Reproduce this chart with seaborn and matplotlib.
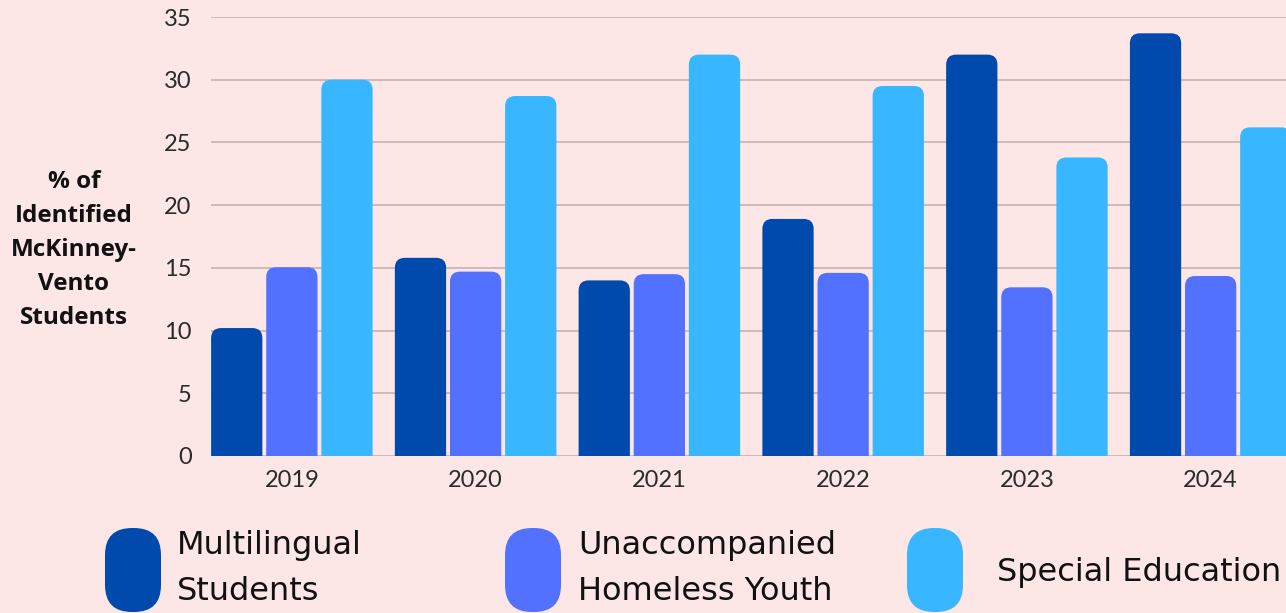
import numpy as np
import pandas as pd
import seaborn as sns
import matplotlib
matplotlib.use("Agg")
import matplotlib.pyplot as plt
from matplotlib.path import Path
from matplotlib.patches import PathPatch, FancyBboxPatch, Rectangle
from matplotlib.transforms import IdentityTransform

# ---- data ----
years = ["2019", "2020", "2021", "2022", "2023", "2024"]
series = ["Multilingual Students", "Unaccompanied Homeless Youth", "Special Education"]
multilingual = [10.2, 15.8, 14.0, 18.9, 32.0, 33.7]
unaccompanied = [15.05, 14.7, 14.5, 14.6, 13.45, 14.35]
special_ed = [30.0, 28.7, 32.0, 29.5, 23.8, 26.2]
legend_labels = ["Multilingual\nStudents", "Unaccompanied\nHomeless Youth", "Special Education"]
y_ticks = [0, 5, 10, 15, 20, 25, 30, 35]
y_label = "% of\nIdentified\nMcKinney-\nVento\nStudents"

colors = ["#004AAD", "#5271FF", "#38B6FF"]
bg = "#FDE6E6"

df = pd.DataFrame({
    "year": years * 3,
    "series": [series[0]] * 6 + [series[1]] * 6 + [series[2]] * 6,
    "value": multilingual + unaccompanied + special_ed,
})

sns.set_theme(style="white")
plt.rcParams["font.family"] = ["Lato", "DejaVu Sans"]

fig = plt.figure(figsize=(12.86, 6.13), dpi=100, facecolor=bg)
ax = fig.add_axes([211 / 1286, 1 - 456 / 613, 1 - 211 / 1286, (456 - 17) / 613])
ax.set_facecolor(bg)

sns.barplot(data=df, x="year", y="value", hue="series", order=years,
            hue_order=series, palette=colors, width=0.9, gap=0.07,
            legend=False, ax=ax, saturation=1)

ax.set_xlim(-0.44, 5.41)
ax.set_ylim(0, 35)
ax.set_yticks(y_ticks)
ax.grid(axis="y", color="#CBB7B7", linewidth=1.3)
ax.set_axisbelow(True)
for s in ax.spines.values():
    s.set_visible(False)
ax.tick_params(axis="y", length=0, pad=14, labelsize=17, labelcolor="#2a2a2a")
ax.tick_params(axis="x", length=0, pad=10, labelsize=17, labelcolor="#2a2a2a")
ax.set_xlabel("")
ax.set_ylabel("")

# rounded tops
rx = 10 / 184
ry = 10 / 12.54
bars = [p for p in ax.patches if isinstance(p, Rectangle)]
for p in bars:
    x0, y0 = p.get_x(), p.get_y()
    w, h = p.get_width(), p.get_height()
    if h <= 0:
        continue
    fc = p.get_facecolor()
    p.set_visible(False)
    r_y = min(ry, h)
    verts = [(x0, y0), (x0, y0 + h - r_y), (x0, y0 + h), (x0 + rx, y0 + h),
             (x0 + w - rx, y0 + h), (x0 + w, y0 + h), (x0 + w, y0 + h - r_y),
             (x0 + w, y0), (x0, y0)]
    codes = [Path.MOVETO, Path.LINETO, Path.CURVE3, Path.CURVE3, Path.LINETO,
             Path.CURVE3, Path.CURVE3, Path.LINETO, Path.CLOSEPOLY]
    ax.add_patch(PathPatch(Path(verts, codes), facecolor=fc, edgecolor="none", zorder=3))

# y label
fig.text(74 / 1286, 1 - 250 / 613, y_label, ha="center", va="center",
         fontsize=17.5, fontweight="bold", family=["Open Sans", "DejaVu Sans"],
         color="#111111", linespacing=1.55)

# legend
H = 613
pill_x = [105, 505, 907]
text_x = [177, 578, 997]
for px, tx, c, lab in zip(pill_x, text_x, colors, legend_labels):
    pill = FancyBboxPatch((px, H - 612), 56, 84,
                          boxstyle="round,pad=0,rounding_size=27",
                          facecolor=c, edgecolor="none", transform=IdentityTransform())
    fig.add_artist(pill)
    yc = 568.5 if "\n" in lab else 573
    fig.text(tx / 1286, 1 - yc / H, lab, ha="left", va="center", fontsize=23,
             family=["DejaVu Sans"], color="#111111", linespacing=1.6)

fig.savefig("out.png", dpi=100, facecolor=bg)
